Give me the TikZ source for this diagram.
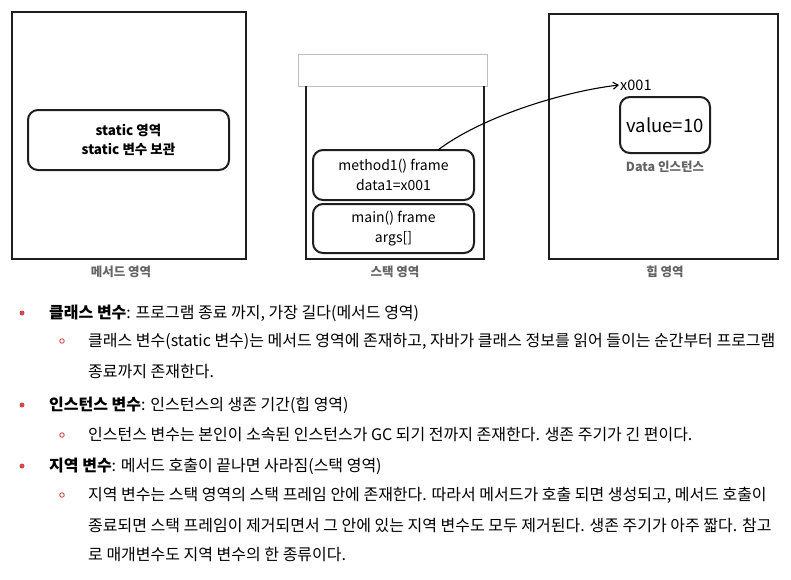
\documentclass[tikz,border=0pt]{standalone}
\usepackage{fontspec}
\setmainfont{Noto Sans CJK KR}
\usetikzlibrary{arrows.meta}
\definecolor{memline}{RGB}{30,30,30}
\definecolor{capgray}{RGB}{100,100,100}
\definecolor{dotred}{RGB}{212,72,72}
\begin{document}
\begin{tikzpicture}[x=1pt, y=-1pt,
  area/.style={draw=memline, line width=2.2pt},
  frame/.style={draw=memline, line width=2pt, rounded corners=10pt, align=center,
    font=\fontsize{14}{20}\selectfont},
  caption/.style={text=capgray, font=\fontsize{12.5}{14}\selectfont\bfseries},
  line/.style={anchor=west, inner sep=0pt, font=\fontsize{16}{18}\selectfont},
  bullet/.style={circle, fill=dotred, inner sep=0pt, minimum size=5pt},
  subbullet/.style={circle, draw=dotred, line width=0.9pt, inner sep=0pt, minimum size=4.5pt}]
  \useasboundingbox (0,0) rectangle (791,579);

  % method area
  \draw[area] (12,12) rectangle (246,259);
  \node[frame, minimum width=201pt, minimum height=60pt, font=\fontsize{13.5}{19}\selectfont\bfseries]
    (static) at (128.5,140) {static 영역\\static 변수 보관};
  \node[caption] (mcap) at (121,272) {메서드 영역};

  % stack area
  \draw[gray!50, line width=0.8pt] (298,54) rectangle (487,86);
  \draw[area] (306,86) -- (306,259) -- (484,259) -- (484,86);
  \node[frame, minimum width=161pt, minimum height=50pt] (m1) at (393.5,175) {method1() frame\\data1=x001};
  \node[frame, minimum width=161pt, minimum height=49pt] (mainf) at (393.5,228.5) {main() frame\\args[]};
  \node[caption] (scap) at (395,272) {스택 영역};

  % heap area
  \draw[area] (549,14) rectangle (778,259);
  \node[anchor=west, inner sep=1pt, font=\fontsize{14.5}{16}\selectfont] (addr) at (619,85) {x001};
  \node[frame, minimum width=90pt, minimum height=56pt, font=\fontsize{18.5}{21}\selectfont]
    (inst) at (665,125) {value=10};
  \node[caption] (icap) at (665,167) {Data 인스턴스};
  \node[caption] (hcap) at (665,272) {힙 영역};

  \coordinate (ref) at (438,150);
  \draw[line width=1.1pt, -{Straight Barb[length=5pt,width=7pt]}]
    (ref) .. controls (480,118) and (560,92) .. (addr.west);

  % notes
  \node[bullet] (b1) at (22,313) {};
  \node[line] (t1) at (49,313) {\textbf{클래스 변수}: 프로그램 종료 까지, 가장 길다(메서드 영역)};
  \node[subbullet] (s1) at (62,341) {};
  \node[line] (t1a) at (88,341) {클래스 변수(static 변수)는 메서드 영역에 존재하고, 자바가 클래스 정보를 읽어 들이는 순간부터 프로그램};
  \node[line] (t1b) at (88,372) {종료까지 존재한다.};

  \node[bullet] (b2) at (22,405) {};
  \node[line] (t2) at (49,405) {\textbf{인스턴스 변수}: 인스턴스의 생존 기간(힙 영역)};
  \node[subbullet] (s2) at (62,435) {};
  \node[line] (t2a) at (88,435) {인스턴스 변수는 본인이 소속된 인스턴스가 GC 되기 전까지 존재한다. 생존 주기가 긴 편이다.};

  \node[bullet] (b3) at (22,466) {};
  \node[line] (t3) at (49,466) {\textbf{지역 변수}: 메서드 호출이 끝나면 사라짐(스택 영역)};
  \node[subbullet] (s3) at (62,495) {};
  \node[line] (t3a) at (88,495) {지역 변수는 스택 영역의 스택 프레임 안에 존재한다. 따라서 메서드가 호출 되면 생성되고, 메서드 호출이};
  \node[line] (t3b) at (88,525) {종료되면 스택 프레임이 제거되면서 그 안에 있는 지역 변수도 모두 제거된다. 생존 주기가 아주 짧다. 참고};
  \node[line] (t3c) at (88,555) {로 매개변수도 지역 변수의 한 종류이다.};
\end{tikzpicture}
\end{document}
